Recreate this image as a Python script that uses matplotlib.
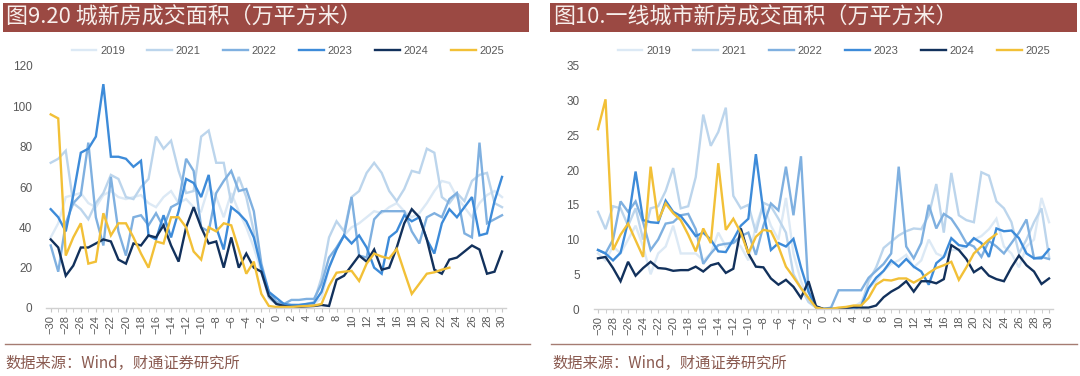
import numpy as np
import matplotlib
matplotlib.use('Agg')
import matplotlib.pyplot as plt
from matplotlib.patches import Rectangle
from matplotlib.lines import Line2D
from matplotlib.ticker import MultipleLocator

plt.rcParams['font.family'] = ['Liberation Sans', 'Noto Sans CJK SC', 'DejaVu Sans']
plt.rcParams['axes.unicode_minus'] = True

nan = np.nan
weeks = list(range(-30, 31))
years = ['2019', '2021', '2022', '2023', '2024', '2025']

# ---------------- Left panel: 城新房成交面积 (万平方米) ----------------
city_2019 = [35, 42, 55, 56, 57, 52, 50, 56, 58, 55, 54, 55, 56, 52, 50, 55, 58, 52, 54, 50,
             48, 60, 55, 45, 57, 48, 40, 30, 18, 6,
             2, 1, 1, 1, 1, 2, 5, 20, 30, 36, 40, 42, 45, 48, 47, 50, 52, 48, 45, 47,
             52, 58, 63, 62, 55, 50, 45, 52, 56, 58, 55]
city_2021 = [72, 74, 78, 52, 49, 44, 52, 57, 66, 64, 55, 54, 60, 64, 85, 79, 83, 68, 57, 58,
             85, 88, 72, 72, 52, 65, 55, 38, 18, 5,
             2, 1.5, 1.5, 1.5, 2, 3, 15, 35, 43, 38, 55, 58, 67, 72, 67, 58, 53, 59, 68, 67,
             79, 77, 55, 52, 57, 53, 63, 66, 67, 52, 50]
city_2022 = [31, 18, 42, 52, 56, 82, 45, 31, 65, 38, 26, 45, 46, 41, 47, 40, 50, 52, 74, 68,
             40, 38, 57, 63, 68, 58, 59, 48, 22, 8,
             3, 2, 4, 4, 4.5, 4.5, 12, 25, 30, 36, 55, 26, 25, 44, 48, 48, 48, 48, 38, 32,
             45, 47, 45, 54, 57, 37, 35, 82, 42, 44, 46]
city_2023 = [49, 45, 38, 56, 77, 79, 85, 111, 75, 75, 74, 70, 73, 36, 34, 46, 35, 48, 64, 62,
             55, 66, 40, 29, 50, 47, 43, 35, 20, 8,
             5, 2, 1.5, 1.5, 2, 2.5, 8, 20, 29, 36, 32, 36, 30, 20, 17, 35, 38, 46, 43, 45,
             34, 27, 42, 49, 45, 50, 55, 36, 37, 53, 65]
city_2024 = [34, 30, 16, 21, 30, 30, 32, 34, 33, 24, 22, 32, 31, 36, 35, 41, 31, 23, 40, 50,
             40, 32, 33, 20, 35, 20, 27, 20, 18, 6,
             2, 1, 0.5, 0.5, 0.8, 1, 1.5, 1, 14, 16, 21, 26, 23, 29, 19, 20, 30, 42, 49, 45,
             34, 19, 17, 24, 25, 28, 31, 29, 17, 18, 28]
city_2025 = [96, 94, 26, 35, 42, 22, 23, 47, 36, 42, 42, 35, 27, 20, 33, 32, 45, 45, 40, 28,
             24, 40, 38, 42, 41, 29, 17, 23, 7, 1,
             0.5, 0.5, 0.5, 0.8, 1, 1.2, 2, 11, 17.5, 18, 18.4, 13.4, 22, 27, 25.5, 24.6, 29.3, 18, 7, 12,
             17, 17.7, 19, 20, nan, nan, nan, nan, nan, nan, nan]

# ---------------- Right panel: 一线城市新房成交面积 (万平方米) ----------------
tier1_2019 = [8, 7, 9, 8, 10, 12, 9, 5, 8, 9, 12, 8, 8, 8, 7, 8, 11, 9, 10, 9,
              7, 12, 15, 12, 10, 16, 8, 4, 1.5, 0.3,
              0, 0, 0, 0.2, 0.3, 1, 3, 4, 5.5, 6.5, 7, 7.8, 6, 7, 10, 8, 7.5, 8.5, 8.5, 9,
              10, 10.5, 11.5, 13, 9, 8, 6, 9, 10, 16, 12.5]
tier1_2021 = [14, 11.5, 14.8, 14.5, 12, 14.5, 10, 14.5, 14.8, 17, 20.3, 14.5, 14.8, 19, 28, 23.5, 25.5, 29, 16.3, 14.5,
              15, 11, 15.3, 14.8, 13, 11, 5, 3, 1, 0.2,
              0, 0, 0, 0, 0.2, 0.5, 4, 6, 8.8, 9.7, 10.6, 11.2, 11.6, 11.5, 13.5, 18, 11, 19.6, 13.5, 12.8,
              12.5, 19.7, 19.2, 15.5, 14.5, 12.5, 8, 10, 12.5, 14.5, 7.5]
tier1_2022 = [8.5, 8, 10, 15.5, 14, 15.5, 12.5, 8.5, 10, 12.3, 12.5, 13.5, 13.7, 11.5, 6.5, 8, 9.2, 9.4, 9.5, 10.5,
              11, 7.8, 12, 15.2, 14.2, 20.5, 13.5, 22, 2.5, 0.2,
              0, 0.2, 2.7, 2.7, 2.7, 2.7, 4.5, 5.5, 6.5, 8, 20.5, 9, 7.3, 9.5, 15, 11.6, 13.7, 13, 11.4, 9.5,
              9, 7.5, 9.8, 9, 8, 9.5, 11, 12.9, 7.3, 7.5, 7.2]
tier1_2023 = [8.5, 8, 7, 8.1, 12.6, 19.8, 12.8, 12.5, 12.4, 15.6, 14, 13.4, 12, 10.5, 11, 10, 8.3, 8.2, 10, 12,
              13, 22.3, 14, 8.5, 9.5, 9, 10.1, 6, 2.5, 0.3,
              0, 0, 0, 0, 0, 0.4, 3, 4.5, 5.5, 7, 6.1, 7.2, 6.1, 5.4, 3.5, 6.6, 7.5, 10.2, 9.2, 9,
              10.2, 9.5, 7.5, 11.6, 11.2, 11.3, 10.2, 8, 7.3, 7.3, 8.6]
tier1_2024 = [7.3, 7.5, 5.9, 4, 6.8, 4.8, 5.9, 6.8, 5.9, 5.8, 5.5, 5.6, 5.6, 6.1, 5.4, 6.3, 6.6, 5.2, 5.8, 11.6,
              8, 6.1, 6, 4.4, 3.5, 4.2, 3.2, 1.6, 4, 0.4,
              0, 0, 0, 0.1, 0.3, 0.2, 0.2, 0.5, 1.7, 2.5, 3.1, 4, 2.5, 4, 4, 3.7, 4.3, 9.2, 8.5, 7.2,
              5.3, 6, 4.8, 4.3, 4, 6, 7.7, 6.3, 5.4, 3.6, 4.4]
tier1_2025 = [25.9, 30.2, 8.5, 10.7, 12.3, 9.9, 7.5, 20.5, 12.7, 15.2, 13.8, 12.8, 10.7, 8.3, 11.6, 9.5, 21, 11.4, 13, 11,
              8, 10.4, 11.4, 11.2, 9, 6.1, 4.6, 3, 1.6, 0.2,
              0, 0, 0.2, 0.3, 0.5, 0.5, 1.6, 3.5, 4.2, 4.1, 4.4, 4.4, 3.8, 4.4, 5.2, 5.9, 6.3, 6.8, 4.2, 6,
              8, 9, 10, 10.8, nan, nan, nan, nan, nan, nan, nan]

colors = ['#DCE9F5', '#BCD5EC', '#7FB0E0', '#3D8BD9', '#12315C', '#F2C037']

title_left = '图9.20 城新房成交面积（万平方米）'
title_right = '图10.一线城市新房成交面积（万平方米）'
source_text = '数据来源：Wind，财通证券研究所'

W, H = 1080, 376
fig = plt.figure(figsize=(W / 100, H / 100), dpi=100)


def fx(px):
    return px / W


def fy(py):
    return 1 - py / H


def draw_panel(rect, series, ymax, ystep, title, bar, rule, legend_cx, src_x):
    ax = fig.add_axes(rect)
    for s, c, lab in zip(series, colors, years):
        ax.plot(weeks, s, color=c, lw=1.7, label=lab, solid_joinstyle='miter')
    ax.set_xlim(-30.6, 30.5)
    ax.set_ylim(0, ymax)
    ax.set_yticks(np.arange(0, ymax + 0.1, ystep))
    ax.xaxis.set_minor_locator(MultipleLocator(1))
    ax.set_xticks(weeks[::2])
    ax.set_xticklabels([str(w).replace('-', '\u2212') for w in weeks[::2]], rotation=90)
    for sp in ['top', 'right', 'left']:
        ax.spines[sp].set_visible(False)
    ax.spines['bottom'].set_color('#D0D0D0')
    ax.spines['bottom'].set_linewidth(1.0)
    ax.tick_params(axis='x', which='both', length=3, color='#C8C8C8', labelsize=8,
                   labelcolor='#595959', pad=2)
    ax.tick_params(axis='y', length=0, labelsize=8.5, labelcolor='#595959', pad=10)
    ax.set_facecolor('none')
    # legend
    handles = [Line2D([], [], color=c, lw=1.7) for c in colors]
    fig.legend(handles, years, loc='center', bbox_to_anchor=(fx(legend_cx), fy(51)),
               ncol=6, frameon=False, fontsize=8, handlelength=2.2, handletextpad=0.35,
               columnspacing=2.05, labelcolor='#595959', borderaxespad=0, borderpad=0)
    # title bar
    x0, x1, y0, y1 = bar
    fig.patches.append(Rectangle((fx(x0), fy(y1)), fx(x1) - fx(x0), fy(y0) - fy(y1),
                                 transform=fig.transFigure, facecolor='#9B4943',
                                 edgecolor='none', zorder=0))
    fig.text(fx(x0 + 3), fy((y0 + y1) / 2), title, color='#F7EFEC', fontsize=15.8,
             va='center', ha='left', family=['Noto Sans CJK SC', 'DejaVu Sans'])
    # source rule + text
    r0, r1 = rule
    fig.add_artist(Line2D([fx(r0), fx(r1)], [fy(344), fy(344)], transform=fig.transFigure,
                          color='#A57C72', lw=1.0))
    fig.text(fx(src_x), fy(363), source_text, color='#8A5A50', fontsize=11,
             va='center', ha='left', family=['Noto Sans CJK SC', 'DejaVu Sans'])
    return ax


left_rect = [fx(46.2), fy(308), (505.8 - 46.2) / W, (308 - 66) / H]
right_rect = [fx(593.5), fy(309), (1052.8 - 593.5) / W, (309 - 66) / H]

draw_panel(left_rect, [city_2019, city_2021, city_2022, city_2023, city_2024, city_2025],
           120, 20, title_left, (3, 529, 3, 32), (5, 530), 288, 5)
draw_panel(right_rect, [tier1_2019, tier1_2021, tier1_2022, tier1_2023, tier1_2024, tier1_2025],
           35, 5, title_right, (550, 1077, 3, 32), (551, 1077), 834, 552)

fig.savefig('out.png', dpi=100, facecolor='white')
